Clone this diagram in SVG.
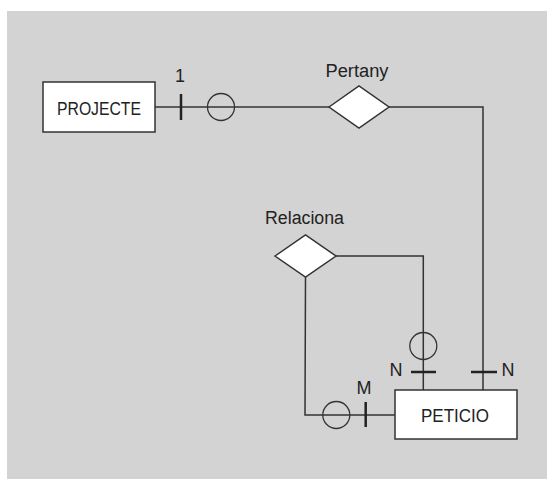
<svg xmlns="http://www.w3.org/2000/svg" width="547" height="479" viewBox="0 0 547 479">
<style>
.ent{fill:#fff;stroke:#333;stroke-width:1.5}
.rel{fill:#fff;stroke:#333;stroke-width:1.5}
.ln{fill:none;stroke:#333;stroke-width:1.5}
.circ{fill:none;stroke:#333;stroke-width:1.3}
.tick{stroke:#222;stroke-width:2.5}
text{font-family:"Liberation Sans",Arial,sans-serif;font-size:18px;fill:#222}
.mid{text-anchor:middle}
</style>
<rect x="7" y="11" width="540" height="468" fill="#d3d3d3"/>
<g id="connectors">
<line class="ln" x1="155" y1="107" x2="329" y2="107"/>
<line class="tick" x1="181" y1="94" x2="181" y2="120"/>
<circle class="circ" cx="221" cy="107" r="13.5"/>
<polyline class="ln" points="389,107 483,107 483,390"/>
<line class="tick" x1="471" y1="372" x2="497" y2="372"/>
<polyline class="ln" points="336,256 423.3,256 423.3,390"/>
<circle class="circ" cx="423.3" cy="346" r="13.5"/>
<line class="tick" x1="411" y1="372" x2="436" y2="372"/>
<polyline class="ln" points="305.5,277 305,415 395,415"/>
<circle class="circ" cx="336.3" cy="415" r="13.5"/>
<line class="tick" x1="365.7" y1="402" x2="365.7" y2="427"/>
<text class="mid" x="180" y="82">1</text>
<text class="mid" x="364" y="394">M</text>
<text class="mid" x="396" y="376">N</text>
<text class="mid" x="508" y="376">N</text>
</g>
<g id="projecte">
<rect class="ent" x="43" y="82" width="112" height="50"/>
<text class="mid" x="99" y="115" textLength="84" lengthAdjust="spacingAndGlyphs">PROJECTE</text>
</g>
<g id="pertany">
<polygon class="rel" points="329,107 359,86 389,107 359,128"/>
<text class="mid" x="357" y="77" textLength="63" lengthAdjust="spacingAndGlyphs">Pertany</text>
</g>
<g id="relaciona">
<polygon class="rel" points="275,256 305.5,235 336,256 305.5,277"/>
<text class="mid" x="304.5" y="224" textLength="79" lengthAdjust="spacingAndGlyphs">Relaciona</text>
</g>
<g id="peticio">
<rect class="ent" x="395" y="390" width="122" height="49"/>
<text class="mid" x="455" y="422" textLength="68" lengthAdjust="spacingAndGlyphs">PETICIO</text>
</g>
</svg>
